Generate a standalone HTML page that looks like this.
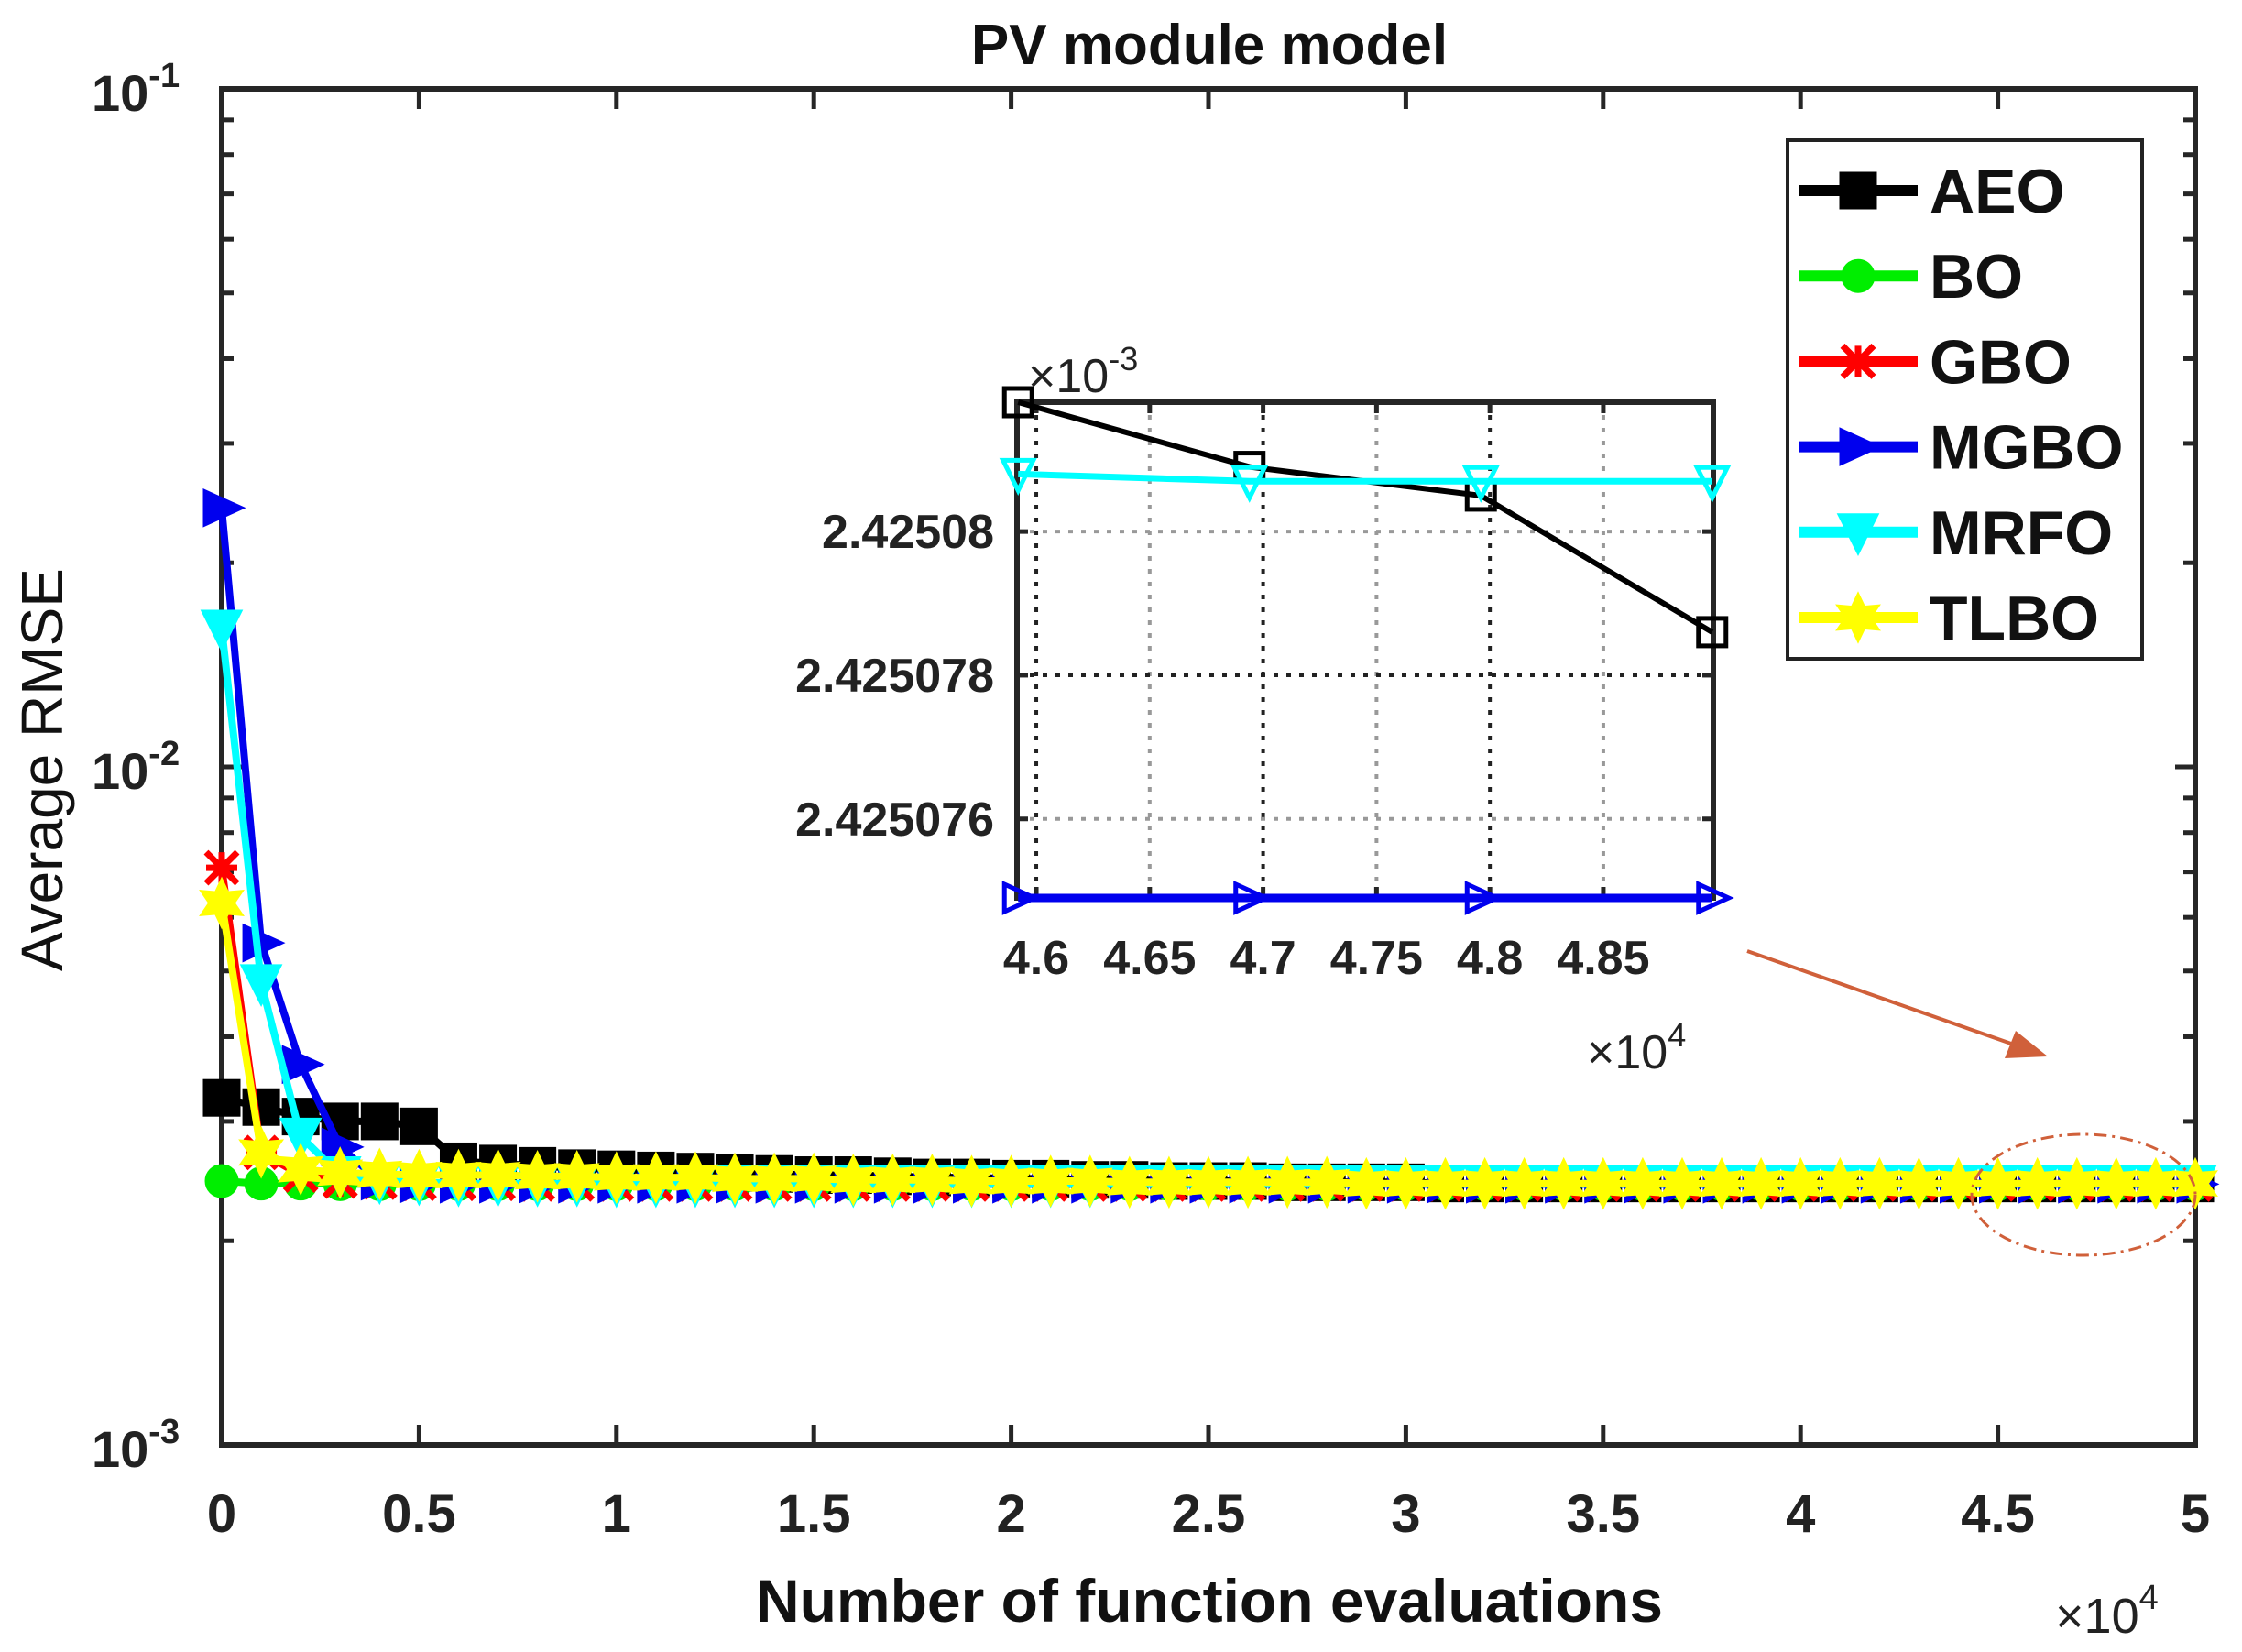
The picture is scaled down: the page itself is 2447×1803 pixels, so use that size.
<!DOCTYPE html>
<html><head><meta charset="utf-8"><style>
html,body{margin:0;padding:0;background:#fff}
svg{display:block}
text{font-family:"Liberation Sans",Arial,sans-serif}
</style></head><body>
<svg id="chart" width="2447" height="1803" viewBox="0 0 2447 1803" xmlns="http://www.w3.org/2000/svg">
<rect width="2447" height="1803" fill="#fff"/>
<g id="main"></g>
<g id="inset"></g>
<g id="legend"></g>
</svg>
<script>
// ---------- data ----------
const evals = [0,1000,2000,3000,4000,5000,6000,7000,8000,9000,10000,11000,12000,13000,14000,15000,16000,17000,18000,19000,20000,21000,22000,23000,24000,25000,26000,27000,28000,29000,30000,31000,32000,33000,34000,35000,36000,37000,38000,39000,40000,41000,42000,43000,44000,45000,46000,47000,48000,49000,50000];
// values in units of 1e-3
const aeo  = [3.25,3.15,3.05,3.0,3.0,2.95,2.62,2.6,2.58,2.56,2.55,2.54,2.53,2.52,2.51,2.5,2.5,2.49,2.48,2.48,2.47,2.47,2.46,2.46,2.45,2.45,2.45,2.44,2.44,2.44,2.44,2.43,2.43,2.43,2.43,2.43,2.43,2.43,2.43,2.43,2.43,2.43,2.43,2.43,2.43,2.43,2.43,2.43,2.43,2.43,2.43];
const bo   = [2.45,2.43,2.43,2.425,2.425,2.425,2.425,2.425,2.425,2.425,2.425,2.425,2.425,2.425,2.425,2.425,2.425,2.425,2.425,2.425,2.425,2.425,2.425,2.425,2.425,2.425,2.425,2.425,2.425,2.425,2.425,2.425,2.425,2.425,2.425,2.425,2.425,2.425,2.425,2.425,2.425,2.425,2.425,2.425,2.425,2.425,2.425,2.425,2.425,2.425,2.425];
const gbo  = [7.1,2.7,2.5,2.45,2.44,2.43,2.43,2.43,2.425,2.425,2.425,2.425,2.425,2.425,2.425,2.425,2.425,2.425,2.425,2.425,2.425,2.425,2.425,2.425,2.425,2.425,2.425,2.425,2.425,2.425,2.425,2.425,2.425,2.425,2.425,2.425,2.425,2.425,2.425,2.425,2.425,2.425,2.425,2.425,2.425,2.425,2.425,2.425,2.425,2.425,2.425];
const mgbo = [24.1,5.5,3.64,2.75,2.45,2.43,2.425,2.425,2.425,2.425,2.425,2.425,2.425,2.425,2.425,2.425,2.425,2.425,2.425,2.425,2.425,2.425,2.425,2.425,2.425,2.425,2.425,2.425,2.425,2.425,2.425,2.425,2.425,2.425,2.425,2.425,2.425,2.425,2.425,2.425,2.425,2.425,2.425,2.425,2.425,2.425,2.425,2.425,2.425,2.425,2.425];
const mrfo = [16.0,4.8,2.85,2.5,2.45,2.44,2.43,2.43,2.43,2.43,2.425,2.425,2.425,2.425,2.425,2.425,2.425,2.425,2.425,2.425,2.425,2.425,2.425,2.425,2.425,2.425,2.425,2.425,2.425,2.425,2.425,2.425,2.425,2.425,2.425,2.425,2.425,2.425,2.425,2.425,2.425,2.425,2.425,2.425,2.425,2.425,2.425,2.425,2.425,2.425,2.425];
const tlbo = [6.3,2.7,2.55,2.52,2.51,2.5,2.5,2.5,2.49,2.49,2.48,2.48,2.48,2.47,2.47,2.47,2.46,2.46,2.46,2.45,2.45,2.45,2.45,2.44,2.44,2.44,2.44,2.44,2.44,2.43,2.43,2.43,2.43,2.43,2.43,2.43,2.43,2.43,2.43,2.43,2.43,2.43,2.43,2.43,2.43,2.43,2.43,2.43,2.43,2.43,2.43];
const xTicks = [0,5000,10000,15000,20000,25000,30000,35000,40000,45000,50000];
const xTickLabels = ["0","0.5","1","1.5","2","2.5","3","3.5","4","4.5","5"];
const yDecades = [-3,-2,-1];
// inset data (x in 1e4, y in 1e-3)
const insetX = [4.592,4.694,4.796,4.898];
const insetAeo = [2.4250818,2.4250809,2.4250805,2.4250786];
const insetMrfo = [2.4250808,2.4250807,2.4250807,2.4250807];
const insetOthers = [2.4250749,2.4250749,2.4250749,2.4250749];
const insetXTicks = [4.6,4.65,4.7,4.75,4.8,4.85];
const insetXTickLabels = ["4.6","4.65","4.7","4.75","4.8","4.85"];
const insetYTicks = [2.425076,2.425078,2.42508];
const insetYTickLabels = ["2.425076","2.425078","2.42508"];
const seriesNames = ["AEO","BO","GBO","MGBO","MRFO","TLBO"];

const NS="http://www.w3.org/2000/svg";
function mk(parent,tag,attrs,txt){const e=document.createElementNS(NS,tag);for(const k in attrs)e.setAttribute(k,attrs[k]);if(txt!==undefined)e.textContent=txt;parent.appendChild(e);return e;}

// ---------- main axes ----------
const L=242,R=2396,T=97,B=1577;
const X=v=>L+(v-0)/(50000)*(R-L);
const Y=v=>T+(-1-Math.log10(v))/2*(B-T);
const main=document.getElementById('main');

const axg=mk(main,'g',{});


xTicks.forEach((t,i)=>{
  const x=X(t);
  mk(axg,'line',{x1:x,y1:B,x2:x,y2:B-22,stroke:'#262626','stroke-width':5});
  mk(axg,'line',{x1:x,y1:T,x2:x,y2:T+22,stroke:'#262626','stroke-width':5});
  const lb=mk(axg,'text',{x:x,y:1672,'font-size':58,'font-weight':'bold','text-anchor':'middle',fill:'#222'},xTickLabels[i]);
  
  
});
for(let d=-3;d<-1;d++){for(let m=2;m<10;m++){const y=Y(m*Math.pow(10,d));
  mk(axg,'line',{x1:L,y1:y,x2:L+13,y2:y,stroke:'#262626','stroke-width':5});
  mk(axg,'line',{x1:R,y1:y,x2:R-13,y2:y,stroke:'#262626','stroke-width':5});}}
yDecades.forEach(d=>{const y=Y(Math.pow(10,d));
  mk(axg,'line',{x1:L,y1:y,x2:L+22,y2:y,stroke:'#262626','stroke-width':5});
  mk(axg,'line',{x1:R,y1:y,x2:R-22,y2:y,stroke:'#262626','stroke-width':5});
  const t=mk(axg,'text',{x:100,y:y+24,'font-size':56,'font-weight':'bold',fill:'#222'});
  
  
  mk(t,'tspan',{},'10');mk(t,'tspan',{dy:-26,'font-size':38},String(d));
});
mk(axg,'rect',{x:L,y:T,width:R-L,height:B-T,fill:'none',stroke:'#262626','stroke-width':6});

function marker(g,type,x,y,color,s,filled){
  const f=filled?color:'none', sw=filled?3:5;
  if(type==='sq')return mk(g,'rect',{x:x-s,y:y-s,width:2*s,height:2*s,fill:f,stroke:color,'stroke-width':sw});
  if(type==='ci')return mk(g,'circle',{cx:x,cy:y,r:s,fill:f,stroke:color,'stroke-width':sw});
  if(type==='rt')return mk(g,'polygon',{points:`${x-s},${y-s} ${x+s*1.2},${y} ${x-s},${y+s}`,fill:f,stroke:color,'stroke-width':sw});
  if(type==='dt')return mk(g,'polygon',{points:`${x-s*1.1},${y-s} ${x+s*1.1},${y-s} ${x},${y+s*1.2}`,fill:f,stroke:color,'stroke-width':sw});
  if(type==='as'){const p=`M${x-s},${y-s}L${x+s},${y+s}M${x-s},${y+s}L${x+s},${y-s}M${x},${y-s}L${x},${y+s}M${x-s},${y}L${x+s},${y}`;return mk(g,'path',{d:p,stroke:color,'stroke-width':7,fill:'none'});}
  if(type==='st'){let pts=[];for(let i=0;i<12;i++){const r=i%2?s*0.6:s*1.15,a=Math.PI/6*i-Math.PI/2;pts.push((x+r*Math.cos(a)).toFixed(1)+','+(y+r*Math.sin(a)).toFixed(1));}return mk(g,'polygon',{points:pts.join(' '),fill:f,stroke:color,'stroke-width':4});}
}
const series=[
 {name:'aeo',data:aeo,color:'#000',m:'sq',s:19},
 {name:'bo',data:bo,color:'#00ee00',m:'ci',s:17},
 {name:'gbo',data:gbo,color:'#ff0000',m:'as',s:17},
 {name:'mgbo',data:mgbo,color:'#0000ee',m:'rt',s:19},
 {name:'mrfo',data:mrfo,color:'#00ffff',m:'dt',s:19},
 {name:'tlbo',data:tlbo,color:'#ffff00',m:'st',s:21}
];
series.forEach(sr=>{
  const g=mk(main,'g',{});
  
  
  const pts=evals.map((e,i)=>X(e).toFixed(1)+','+Y(sr.data[i]*1e-3).toFixed(1)).join(' ');
  const pl=mk(g,'polyline',{points:pts,fill:'none',stroke:sr.color,'stroke-width':8});
  
  
  evals.forEach((e,i)=>{const m=marker(g,sr.m,X(e),Y(sr.data[i]*1e-3),sr.color,sr.s,true);
    
    });
});

let t=mk(main,'text',{x:1320,y:70,'font-size':62,'font-weight':'bold','text-anchor':'middle',fill:'#111'},'PV module model');

t=mk(main,'text',{x:1320,y:1770,'font-size':66,'font-weight':'bold','text-anchor':'middle',fill:'#111'},'Number of function evaluations');

t=mk(main,'text',{x:0,y:0,'font-size':64,'text-anchor':'middle',fill:'#111',transform:'translate(68,840) rotate(-90)'},'Average RMSE');

t=mk(main,'text',{x:2243,y:1782,'font-size':54,fill:'#222'});

mk(t,'tspan',{},'×10');mk(t,'tspan',{dy:-26,'font-size':38},'4');

t=mk(main,'g',{});

mk(t,'line',{x1:1907,y1:1038,x2:2215,y2:1146,stroke:'#d0603a','stroke-width':4});
mk(t,'polygon',{points:'2235,1153 2188,1155 2200,1125',fill:'#d0603a'});
t=mk(main,'ellipse',{cx:2274,cy:1304,rx:122,ry:66,fill:'none',stroke:'#d0603a','stroke-width':3,'stroke-dasharray':'14,6,3,6'});


// ---------- inset ----------
const IL=1110,IR=1870,IT=439,IB=980;
const IX=v=>IL+(v-4.5915)/(4.8985-4.5915)*(IR-IL);
const IY=v=>IT+(2.4250818-v)/(2.4250818-2.4250749)*(IB-IT);
const inset=document.getElementById('inset');
mk(inset,'rect',{x:IL,y:IT,width:IR-IL,height:IB-IT,fill:'#fff'});
insetXTicks.forEach((v,i)=>{const x=IX(v);
  mk(inset,'line',{x1:x,y1:IT,x2:x,y2:IB,stroke:i%2?'#999':'#222','stroke-width':4,'stroke-dasharray':'5,9'});
  mk(inset,'line',{x1:x,y1:IB,x2:x,y2:IB-12,stroke:'#262626','stroke-width':5});
  mk(inset,'line',{x1:x,y1:IT,x2:x,y2:IT+12,stroke:'#262626','stroke-width':5});
  const lb=mk(inset,'text',{x:x,y:1063,'font-size':52,'font-weight':'bold','text-anchor':'middle',fill:'#222'},insetXTickLabels[i]);
  
});
insetYTicks.forEach((v,i)=>{const y=IY(v);
  mk(inset,'line',{x1:IL,y1:y,x2:IR,y2:y,stroke:i===1?'#222':'#999','stroke-width':4,'stroke-dasharray':'5,9'});
  mk(inset,'line',{x1:IL,y1:y,x2:IL+12,y2:y,stroke:'#262626','stroke-width':5});
  mk(inset,'line',{x1:IR,y1:y,x2:IR-12,y2:y,stroke:'#262626','stroke-width':5});
  const lb=mk(inset,'text',{x:1085,y:y+18,'font-size':52,'font-weight':'bold','text-anchor':'end',fill:'#222'},insetYTickLabels[i]);
  
});
mk(inset,'rect',{x:IL,y:IT,width:IR-IL,height:IB-IT,fill:'none',stroke:'#262626','stroke-width':6});
function insetSeries(name,data,color,m,w){
  const g=mk(inset,'g',{});
  
  
  mk(g,'polyline',{points:insetX.map((x,i)=>IX(x)+','+IY(data[i])).join(' '),fill:'none',stroke:color,'stroke-width':w});
  insetX.forEach((x,i)=>{const mm=marker(g,m,IX(x),IY(data[i]),color,15,false);
    
    });
}
insetSeries('others',insetOthers,'#0000ee','rt',9);
insetSeries('aeo',insetAeo,'#000','sq',6);
insetSeries('mrfo',insetMrfo,'#00ffff','dt',7);
t=mk(inset,'text',{x:1122,y:428,'font-size':52,fill:'#222'});

mk(t,'tspan',{},'×10');mk(t,'tspan',{dy:-24,'font-size':36},'-3');
t=mk(inset,'text',{x:1732,y:1166,'font-size':52,fill:'#222'});

mk(t,'tspan',{},'×10');mk(t,'tspan',{dy:-24,'font-size':36},'4');

// ---------- legend ----------
const lg=document.getElementById('legend');
mk(lg,'rect',{x:1951,y:153,width:387,height:566,fill:'#fff',stroke:'#222','stroke-width':4});
series.forEach((sr,i)=>{
  const y=208+i*93.2;
  const g=mk(lg,'g',{});
  
  
  mk(g,'line',{x1:1963,y1:y,x2:2093,y2:y,stroke:sr.color,'stroke-width':12});
  marker(g,sr.m,2028,y,sr.color,sr.s,true);
  mk(g,'text',{x:2106,y:y+24,'font-size':68,'font-weight':'bold',fill:'#111'},seriesNames[i]);
});
</script>
</body></html>
